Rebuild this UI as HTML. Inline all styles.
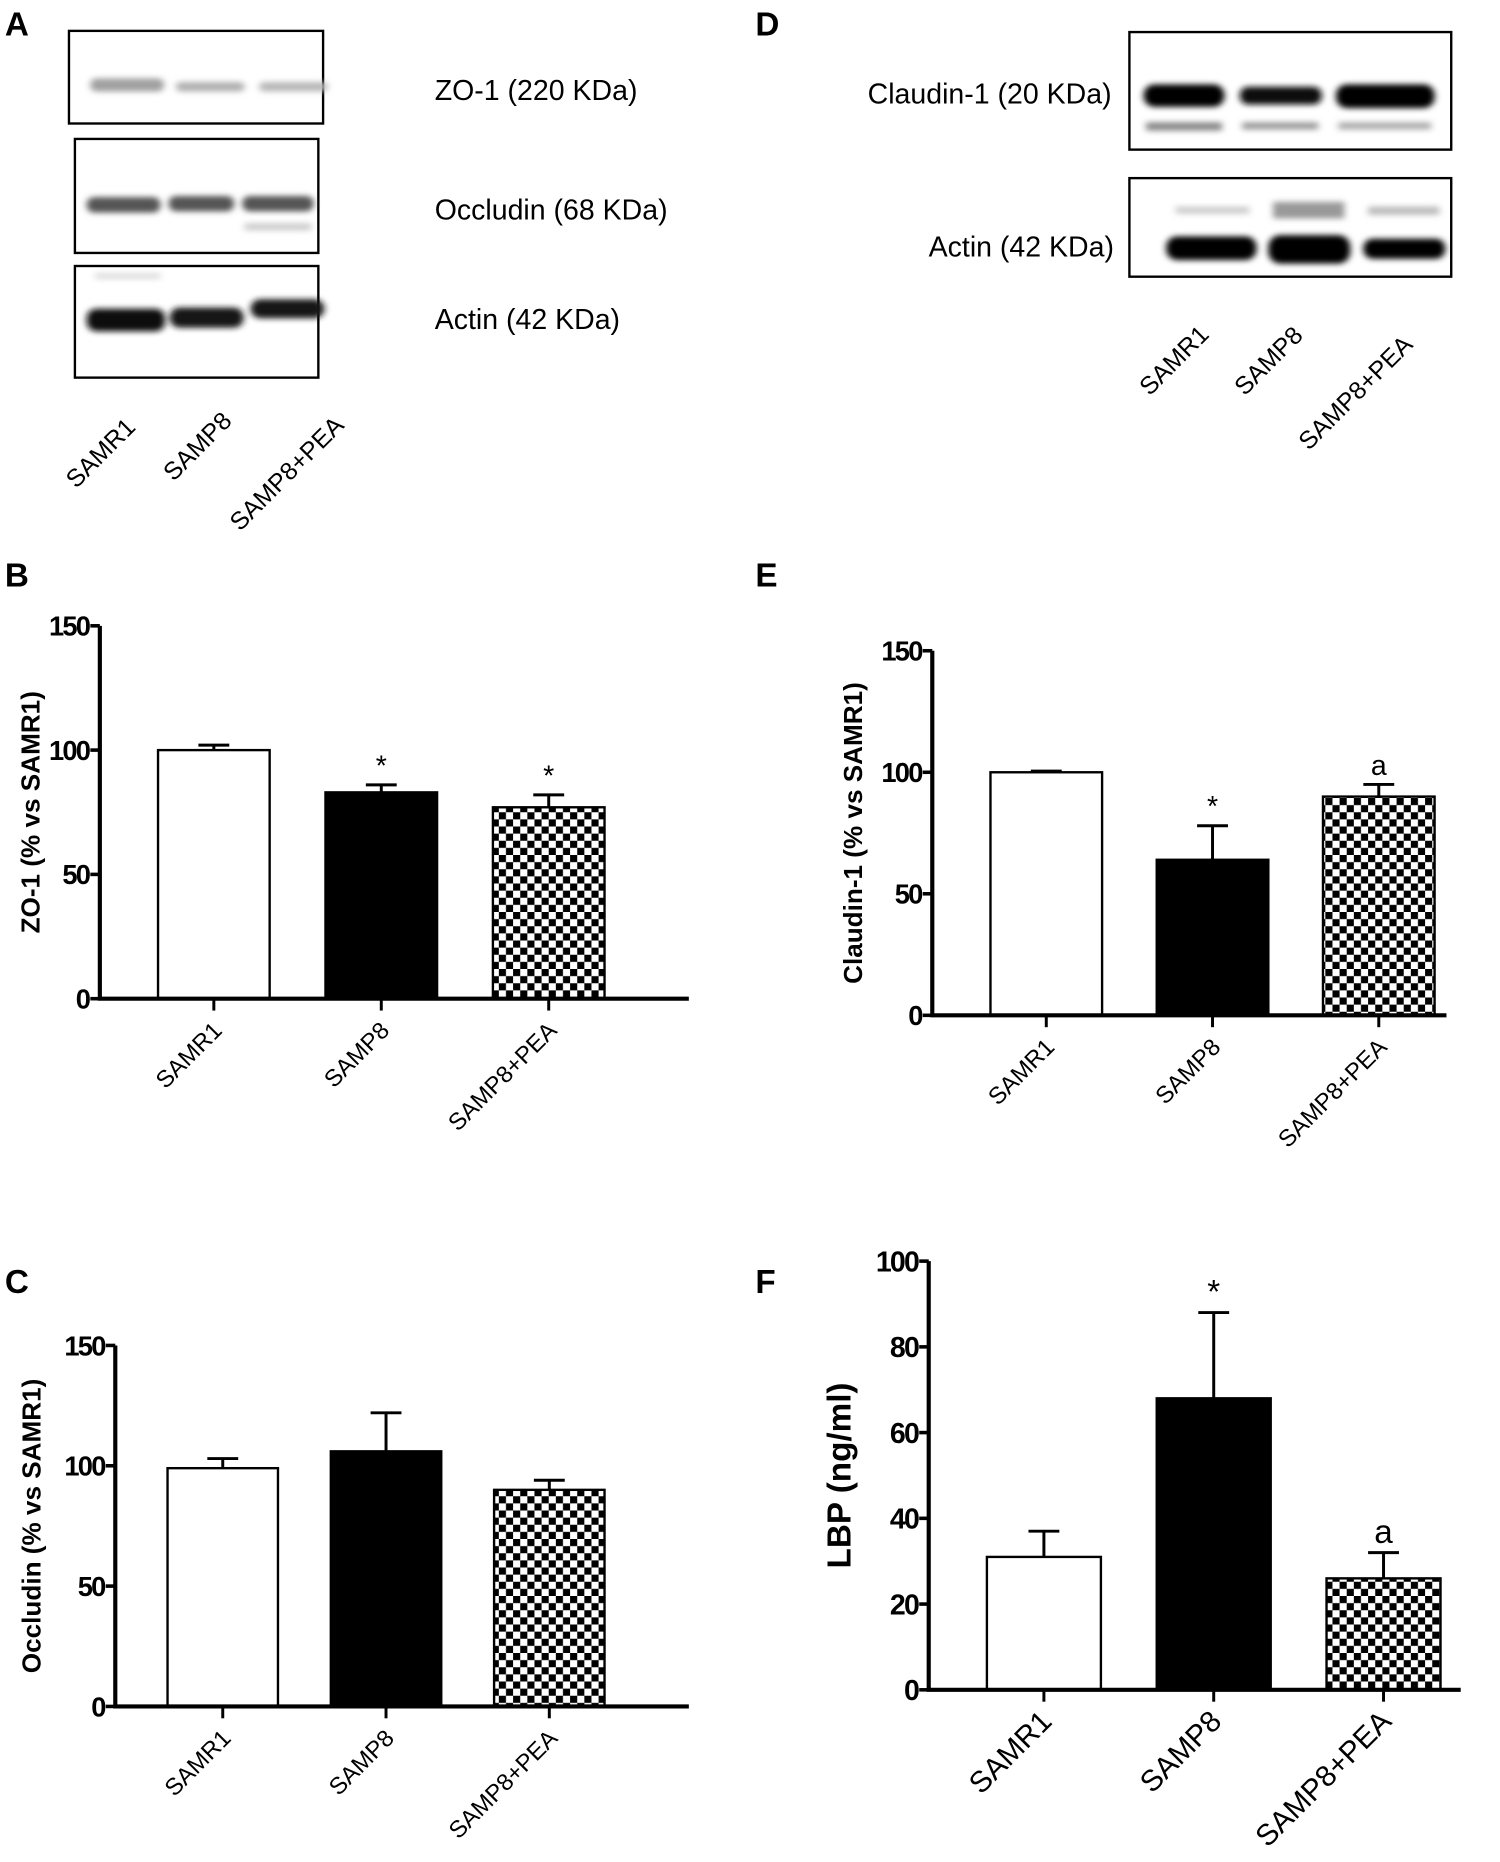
<!DOCTYPE html>
<html><head><meta charset="utf-8"><style>
html,body{margin:0;padding:0;background:#fff;}
svg{display:block;}
text{font-family:"Liberation Sans",sans-serif;}
</style></head><body>
<svg id="fig" width="1500" height="1862" viewBox="0 0 1263 1568" xmlns="http://www.w3.org/2000/svg">
<defs>
<filter id="blur" x="-20%" y="-100%" width="140%" height="300%"><feGaussianBlur stdDeviation="3 2.5"/></filter>
<pattern id="checker" patternUnits="userSpaceOnUse" width="12" height="12">
<rect width="12" height="12" fill="#fff"/><rect width="6" height="6" fill="#000"/><rect x="6" y="6" width="6" height="6" fill="#000"/>
</pattern>
</defs>

<!-- Panel A -->
<g>
<text x="4" y="30" font-size="28" font-weight="bold">A</text>
<rect x="58" y="26" width="214" height="78" fill="#fff" stroke="#000" stroke-width="2"/>
<g filter="url(#blur)">
<rect x="76" y="66" width="62" height="11" rx="5" fill="#a0a0a0"/>
<rect x="148" y="69" width="58" height="8" rx="4" fill="#b0b0b0"/>
<rect x="218" y="69" width="58" height="8" rx="4" fill="#b8b8b8"/>
</g>
<rect x="63" y="117" width="205" height="96" fill="#fff" stroke="#000" stroke-width="2"/>
<g filter="url(#blur)">
<rect x="73" y="166" width="62" height="13" rx="6" fill="#555"/>
<rect x="142" y="165" width="55" height="13" rx="6" fill="#555"/>
<rect x="204" y="165" width="60" height="13" rx="6" fill="#555"/>
<rect x="206" y="188" width="56" height="6" fill="#ccc"/>
</g>
<rect x="63" y="224" width="205" height="94" fill="#fff" stroke="#000" stroke-width="2"/>
<g filter="url(#blur)">
<rect x="73" y="260" width="66" height="19" rx="8" fill="#111"/>
<rect x="143" y="259" width="62" height="17" rx="8" fill="#151515"/>
<rect x="211" y="252" width="62" height="16" rx="8" fill="#151515"/>
<rect x="80" y="230" width="55" height="5" fill="#ddd"/>
</g>
<text x="366" y="84" font-size="24">ZO-1 (220 KDa)</text>
<text x="366" y="185" font-size="24">Occludin (68 KDa)</text>
<text x="366" y="277" font-size="24">Actin (42 KDa)</text>
<text transform="translate(64,412) rotate(-45)" font-size="21">SAMR1</text>
<text transform="translate(146,406) rotate(-45)" font-size="21">SAMP8</text>
<text transform="translate(202,448) rotate(-45)" font-size="21">SAMP8+PEA</text>
</g>

<!-- Panel D -->
<g>
<text x="636" y="30" font-size="28" font-weight="bold">D</text>
<rect x="951" y="27" width="271" height="99" fill="#fff" stroke="#000" stroke-width="2"/>
<g filter="url(#blur)">
<rect x="963" y="71" width="68" height="19" rx="9" fill="#000"/>
<rect x="1044" y="73" width="69" height="15" rx="7" fill="#111"/>
<rect x="1125" y="71" width="83" height="20" rx="9" fill="#000"/>
<rect x="965" y="103" width="64" height="7" fill="#888"/>
<rect x="1046" y="103" width="64" height="6" fill="#999"/>
<rect x="1127" y="103" width="78" height="6" fill="#aaa"/>
</g>
<rect x="951" y="150" width="271" height="83" fill="#fff" stroke="#000" stroke-width="2"/>
<g filter="url(#blur)">
<rect x="982" y="199" width="76" height="20" rx="9" fill="#000"/>
<rect x="1068" y="198" width="69" height="24" rx="10" fill="#000"/>
<rect x="1148" y="201" width="69" height="17" rx="8" fill="#000"/>
<rect x="990" y="174" width="62" height="6" fill="#ccc"/>
<rect x="1072" y="170" width="60" height="14" fill="#999"/>
<rect x="1152" y="174" width="60" height="7" fill="#bbb"/>
</g>
<text x="936" y="87" font-size="24" text-anchor="end">Claudin-1 (20 KDa)</text>
<text x="938" y="216" font-size="24" text-anchor="end">Actin (42 KDa)</text>
<text transform="translate(968,334) rotate(-45)" font-size="21">SAMR1</text>
<text transform="translate(1048,334) rotate(-45)" font-size="21">SAMP8</text>
<text transform="translate(1102,380) rotate(-45)" font-size="21">SAMP8+PEA</text>
</g>

<g id="charts"></g>
</svg>
<script>
const NS = "http://www.w3.org/2000/svg";
const categories = ["SAMR1", "SAMP8", "SAMP8+PEA"];
const zo1Values = [100, 83, 77];
const zo1Errors = [2, 3, 5];
const zo1Marks = ["", "*", "*"];
const zo1Ticks = [0, 50, 100, 150];
const claudinValues = [100, 64, 90];
const claudinErrors = [0.5, 14, 5];
const claudinMarks = ["", "*", "a"];
const claudinTicks = [0, 50, 100, 150];
const occludinValues = [99, 106, 90];
const occludinErrors = [4, 16, 4];
const occludinMarks = ["", "", ""];
const occludinTicks = [0, 50, 100, 150];
const lbpValues = [31, 68, 26];
const lbpErrors = [6, 20, 6];
const lbpMarks = ["", "*", "a"];
const lbpTicks = [0, 20, 40, 60, 80, 100];

const fills = ["#fff", "#000", "url(#checker)"];
const root = document.getElementById("charts");

function mk(tag, attrs, parent) {
  const e = document.createElementNS(NS, tag);
  for (const k in attrs) e.setAttribute(k, attrs[k]);
  parent.appendChild(e);
  return e;
}

function drawChart(cfg, values, errors, marks, ticks) {
  const g = mk("g", {}, root);
  
  
  const ymax = ticks[ticks.length - 1];
  const y = v => cfg.y0 - (v / ymax) * (cfg.y0 - cfg.yTop);
  const bx = i => cfg.barX[0] + i * cfg.step;
  const lbl = mk("text", {x: cfg.labelX, y: cfg.labelY, "font-size": 28, "font-weight": "bold"}, g);
  lbl.textContent = cfg.letter;
  
  
  values.forEach((v, i) => {
    const x = bx(i);
    const top = y(v + errors[i]);
    const eb = mk("path", {d: `M${x + cfg.bw / 2} ${y(v)}V${top}M${x + cfg.bw / 2 - 13} ${top}H${x + cfg.bw / 2 + 13}`, stroke: "#000", "stroke-width": 2.5, fill: "none"}, g);
    
    
    const r = mk("rect", {x: x, y: y(v), width: cfg.bw, height: cfg.y0 - y(v), fill: fills[i], stroke: "#000", "stroke-width": 2}, g);
    
    
    if (marks[i]) {
      const m = mk("text", {x: x + cfg.bw / 2, y: top - 8, "font-size": cfg.mfs, "text-anchor": "middle"}, g);
      m.textContent = marks[i];
      
      
    }
    const tk = mk("line", {x1: x + cfg.bw / 2, x2: x + cfg.bw / 2, y1: cfg.y0, y2: cfg.y0 + 10, stroke: "#000", "stroke-width": 2.5}, g);
    
    
    const xl = mk("text", {transform: `translate(${x + cfg.bw / 2 + 8},${cfg.y0 + 28}) rotate(-45)`, "font-size": cfg.fs, "text-anchor": "end"}, g);
    xl.textContent = categories[i];
    
    
  });
  const ax = mk("path", {d: `M${cfg.axX} ${cfg.yTop}V${cfg.y0}H${cfg.xEnd}`, stroke: "#000", "stroke-width": 3.5, fill: "none"}, g);
  
  
  ticks.forEach(t => {
    const tl = mk("line", {x1: cfg.axX - 8, x2: cfg.axX, y1: y(t), y2: y(t), stroke: "#000", "stroke-width": 3}, g);
    
    
    const tt = mk("text", {x: cfg.axX - 9, y: y(t) + cfg.tfs * 0.36, "font-size": cfg.tfs, "font-weight": "bold", "text-anchor": "end", "letter-spacing": "-1.5"}, g);
    tt.textContent = t;
    
    
  });
  const yt = mk("text", {transform: `translate(${cfg.titleX},${(cfg.y0 + cfg.yTop) / 2}) rotate(-90)`, "font-size": cfg.titleFs, "font-weight": "bold", "text-anchor": "middle"}, g);
  yt.textContent = cfg.title;
  
  
}

drawChart({name: "chart-b-zo1", letter: "B", labelX: 4, labelY: 494, axX: 84, yTop: 527, y0: 841, xEnd: 580, barX: [133], step: 141, bw: 94, fs: 20, mfs: 24, tfs: 23, titleX: 33, titleFs: 22, title: "ZO-1 (% vs SAMR1)"}, zo1Values, zo1Errors, zo1Marks, zo1Ticks);
drawChart({name: "chart-e-claudin", letter: "E", labelX: 636, labelY: 494, axX: 785, yTop: 548, y0: 855, xEnd: 1218, barX: [834], step: 140, bw: 94, fs: 20, mfs: 24, tfs: 23, titleX: 726, titleFs: 22, title: "Claudin-1 (% vs SAMR1)"}, claudinValues, claudinErrors, claudinMarks, claudinTicks);
drawChart({name: "chart-c-occludin", letter: "C", labelX: 4, labelY: 1089, axX: 97, yTop: 1133, y0: 1437, xEnd: 580, barX: [141], step: 137.5, bw: 93, fs: 20, mfs: 24, tfs: 23, titleX: 34, titleFs: 22, title: "Occludin (% vs SAMR1)"}, occludinValues, occludinErrors, occludinMarks, occludinTicks);
drawChart({name: "chart-f-lbp", letter: "F", labelX: 636, labelY: 1089, axX: 782, yTop: 1062, y0: 1423, xEnd: 1230, barX: [831], step: 143, bw: 96, fs: 25, mfs: 28, tfs: 24, titleX: 716, titleFs: 28, title: "LBP (ng/ml)"}, lbpValues, lbpErrors, lbpMarks, lbpTicks);
</script>
</body></html>
